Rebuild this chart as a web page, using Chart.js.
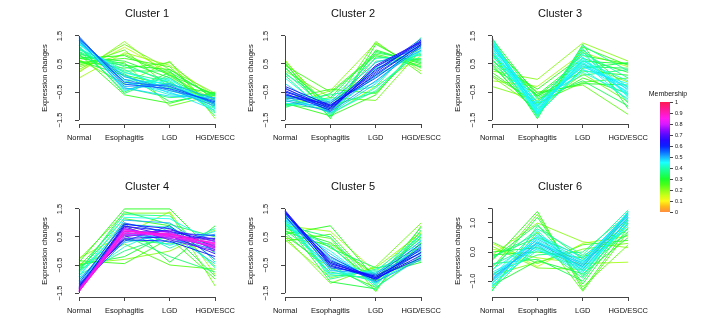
<!DOCTYPE html>
<html>
<head>
<meta charset="utf-8">
<script src="https://cdn.jsdelivr.net/npm/chart.js@4.4.1/dist/chart.umd.min.js"></script>
<style>
    html, body { margin: 0; padding: 0; background: #fff; }
    #fig { position: relative; width: 720px; height: 321px; overflow: hidden; background: #fff; }
    #fig canvas { position: absolute; }
</style>
</head>
<body>
<div id="fig"></div>
<script>
const stages = ["Normal", "Esophagitis", "LGD", "HGD/ESCC"];
const yTicks = [-1.5, -1, -0.5, 0, 0.5, 1, 1.5];
const yTickLabels = {"-1.5": "\u22121.5", "-0.5": "\u22120.5", "0.5": "0.5", "1.5": "1.5"};
const yTicks6 = [-1, -0.5, 0, 0.5, 1, 1.5];
const yTickLabels6 = {"-1": "\u22121.0", "0": "0.0", "1": "1.0"};
const membershipTicks = [0, 0.1, 0.2, 0.3, 0.4, 0.5, 0.6, 0.7, 0.8, 0.9, 1];

// profiles: [Normal, Esophagitis, LGD, HGD/ESCC]
const cluster1 = [
    [1.48, -0.22, -0.38, -0.85], [1.42, -0.15, -0.30, -0.90], [1.38, -0.05, -0.45, -0.80], [1.45, -0.30, -0.25, -0.95],
    [1.30, 0.05, -0.40, -1.00], [1.35, -0.40, -0.20, -0.75], [1.25, 0.10, -0.55, -0.85], [1.40, -0.45, -0.05, -1.05],
    [1.20, 0.20, -0.30, -1.10], [1.10, -0.10, -0.60, -0.70], [1.30, -0.25, 0.00, -1.20], [1.05, 0.30, -0.45, -0.90],
    [1.00, 0.40, -0.10, -1.25], [0.95, -0.35, -0.70, -0.60], [1.15, -0.55, 0.10, -1.00], [0.85, 0.50, -0.20, -0.75],
    [0.90, 0.25, 0.25, -1.35], [0.80, 0.15, -0.85, -0.55], [1.10, -0.50, 0.20, -0.65], [0.75, 0.60, 0.00, -0.95],
    [0.70, 0.80, 0.10, -0.60], [0.55, 0.70, 0.40, -1.10], [0.60, 0.35, 0.55, -0.85], [0.45, 1.00, -0.35, -0.70],
    [0.30, 1.20, 0.30, -0.55], [0.20, 1.30, 0.05, -0.80], [0.00, 0.90, 0.45, -0.65], [0.65, -0.20, 0.60, -1.45],
    [0.50, 0.55, -1.00, -0.60], [0.85, -0.60, -0.90, -0.50], [0.25, 1.10, 0.20, -1.20],
    [1.20, -0.05, -0.20, -0.95], [1.05, 0.05, -0.35, -0.80], [0.95, 0.20, -0.15, -1.05], [1.25, -0.15, -0.50, -1.15],
    [0.70, 0.45, 0.30, -0.75], [0.40, 0.85, 0.15, -0.95], [1.35, -0.35, -0.65, -0.70], [0.60, 0.10, -0.25, -0.55]
];
const member1 = [0.57, 0.55, 0.53, 0.52, 0.51, 0.50, 0.47, 0.45, 0.44, 0.42, 0.41, 0.40, 0.38, 0.36, 0.35, 0.34,
    0.33, 0.32, 0.31, 0.30, 0.28, 0.26, 0.25, 0.24, 0.22, 0.20, 0.18, 0.21, 0.23, 0.27, 0.16,
    0.43, 0.39, 0.37, 0.46, 0.29, 0.22, 0.48, 0.30];

const cluster2 = [
    [-0.38, -1.05, 0.45, 1.30], [-0.45, -1.10, 0.30, 1.25], [-0.30, -0.98, 0.20, 1.35], [-0.50, -1.00, 0.10, 1.20],
    [-0.55, -1.15, 0.40, 1.28], [-0.60, -0.95, 0.00, 1.15], [-0.70, -0.90, 0.25, 1.40], [-0.80, -1.20, -0.10, 1.10],
    [-0.65, -0.85, 0.55, 1.05], [-0.20, -1.25, -0.20, 1.30], [-0.90, -1.00, 0.35, 0.95], [0.00, -1.30, -0.35, 1.00],
    [-1.00, -0.75, 0.70, 0.80], [0.20, -1.20, 0.10, 0.90], [-0.85, -0.60, -0.30, 1.45], [0.10, -1.40, 0.60, 0.70],
    [-0.95, -1.10, 0.90, 0.60], [0.35, -1.00, -0.50, 1.20], [-1.05, -0.55, 0.80, 0.40], [0.40, -1.35, 1.00, 0.50],
    [0.55, -1.45, 1.20, 0.35], [-0.75, -0.40, -0.55, 1.10], [0.60, -1.10, 1.30, 0.15], [0.25, -0.70, -0.80, 1.00],
    [-1.00, -0.45, 1.25, 0.25], [0.65, -1.30, -0.30, 0.80], [0.45, -0.50, 0.85, 0.45], [-0.90, -1.35, -0.60, 1.25],
    [-0.60, -1.05, 0.15, 1.20], [-0.75, -1.10, 0.05, 1.00], [-0.35, -1.20, 0.40, 1.15], [-0.50, -0.80, -0.15, 1.35],
    [0.15, -0.90, 0.35, 0.85], [-0.95, -0.70, 0.95, 0.55], [0.50, -1.20, 0.75, 0.65], [-0.65, -1.25, -0.45, 1.00]
];
const member2 = [0.66, 0.64, 0.63, 0.62, 0.61, 0.58, 0.55, 0.52, 0.50, 0.48, 0.46, 0.43, 0.41, 0.39, 0.37, 0.36,
    0.34, 0.33, 0.32, 0.30, 0.28, 0.26, 0.24, 0.22, 0.20, 0.18, 0.25, 0.27,
    0.57, 0.49, 0.53, 0.44, 0.35, 0.31, 0.27, 0.38];

const cluster3 = [
    [1.20, -1.10, 0.50, -0.40], [1.10, -1.20, 0.65, -0.55], [1.30, -1.00, 0.40, -0.30], [1.00, -1.25, 0.75, -0.65],
    [1.35, -1.15, 0.30, -0.20], [0.90, -0.95, 0.55, -0.80], [1.25, -1.30, 0.85, -0.45], [1.15, -0.85, 0.20, -0.60],
    [0.80, -1.05, 0.60, -0.10], [1.40, -1.40, 1.05, -0.70], [1.45, -1.20, 1.15, 0.25], [0.70, -1.35, 0.95, -0.90],
    [1.05, -0.70, 0.10, 0.30], [0.55, -1.00, 1.00, -0.35], [1.30, -0.75, -0.10, -1.00], [0.45, -1.25, 0.35, 0.55],
    [0.95, -1.45, 1.20, -1.10], [0.35, -0.60, 0.70, 0.20], [1.20, -0.55, -0.20, -0.25], [0.60, -0.40, 0.80, 0.50],
    [0.10, -0.90, -0.15, 0.00], [0.25, -0.05, 1.25, 0.60], [-0.10, -0.30, 0.90, 0.40], [0.75, -0.50, -0.25, -1.30],
    [0.05, -1.10, 0.15, -0.85], [-0.30, -0.80, 0.50, -0.15], [0.50, -1.30, 1.10, 0.45], [0.85, -0.65, 0.25, 0.10],
    [1.15, -1.00, 0.45, -0.50], [1.00, -1.15, 0.55, -0.35], [1.30, -1.25, 0.70, -0.60], [0.85, -1.30, 0.30, -0.75],
    [1.25, -0.90, 0.90, 0.00], [0.65, -0.85, 0.40, 0.35], [1.40, -0.65, 0.60, 0.50], [0.20, -0.95, 0.00, -0.55]
];
const member3 = [0.47, 0.46, 0.46, 0.45, 0.45, 0.44, 0.44, 0.43, 0.42, 0.40, 0.38, 0.36, 0.35, 0.34, 0.33, 0.32,
    0.31, 0.30, 0.29, 0.27, 0.25, 0.20, 0.18, 0.23, 0.22, 0.21, 0.26, 0.28,
    0.46, 0.45, 0.44, 0.41, 0.39, 0.33, 0.30, 0.27];

const cluster4 = [
    [-1.45, 0.70, 0.60, 0.25], [-1.42, 0.65, 0.55, 0.15], [-1.40, 0.75, 0.50, 0.30], [-1.45, 0.60, 0.65, 0.10],
    [-1.38, 0.80, 0.45, 0.20], [-1.43, 0.55, 0.60, 0.35], [-1.35, 0.68, 0.70, 0.05], [-1.40, 0.85, 0.40, 0.00],
    [-1.30, 0.50, 0.75, 0.40], [-1.45, 0.90, 0.55, -0.10], [-1.25, 0.45, 0.50, 0.45], [-1.35, 0.95, 0.80, 0.15],
    [-1.20, 0.40, 0.35, -0.20], [-1.15, 1.00, 0.65, 0.55], [-1.30, 0.35, 0.90, -0.30], [-1.05, 0.80, 0.30, 0.60],
    [-1.25, 1.10, 1.00, -0.05], [-0.95, 0.30, 0.60, -0.45], [-1.10, 0.70, 0.20, 0.70], [-0.90, 1.20, 1.15, 0.30],
    [-1.00, 0.15, 0.85, -0.60], [-0.80, 0.90, 0.10, 0.80], [-0.70, 1.30, 1.25, -0.40], [-0.85, 0.00, 0.55, 0.20],
    [-0.60, 0.55, -0.20, -0.75], [-0.75, 1.40, 0.95, 0.50], [-0.50, -0.20, 0.65, -0.90], [-0.65, 1.00, -0.40, 0.90],
    [-0.40, 1.50, 1.50, -0.10], [-0.35, -0.45, 0.45, -1.00], [-0.55, 0.25, -0.50, -0.65], [-0.30, 1.35, 1.35, -1.25],
    [-0.45, -0.30, 0.00, 0.75], [-0.25, 0.60, 1.40, -0.85],
    [-1.40, 0.72, 0.58, 0.28], [-1.38, 0.62, 0.62, 0.22], [-1.33, 0.78, 0.52, 0.12], [-1.28, 0.88, 0.70, 0.35],
    [-1.18, 0.60, 0.45, 0.05], [-0.90, 0.95, 0.85, 0.10], [-0.70, 0.40, 0.25, 0.45], [-0.55, 1.15, 0.90, -0.55]
];
const member4 = [0.88, 0.85, 0.83, 0.81, 0.79, 0.77, 0.75, 0.72, 0.70, 0.67, 0.65, 0.63, 0.61, 0.57, 0.55, 0.52,
    0.50, 0.48, 0.46, 0.44, 0.42, 0.40, 0.38, 0.36, 0.35, 0.33, 0.31, 0.30, 0.28, 0.26, 0.24, 0.22, 0.20, 0.18,
    0.84, 0.80, 0.76, 0.60, 0.54, 0.41, 0.34, 0.27];

const cluster5 = [
    [1.45, -0.45, -0.95, 0.05], [1.40, -0.40, -1.00, -0.15], [1.42, -0.55, -0.90, -0.05], [1.35, -0.35, -0.95, -0.25],
    [1.30, -0.20, -1.05, 0.15], [1.25, -0.60, -0.85, 0.25], [1.20, -0.30, -1.10, -0.30], [1.38, -0.70, -0.80, 0.35],
    [1.10, -0.10, -1.15, 0.10], [1.15, -0.80, -0.75, -0.10], [0.95, 0.00, -1.20, 0.40], [1.05, -0.90, -0.70, 0.55],
    [0.85, 0.20, -1.30, -0.20], [1.30, -1.00, -0.65, 0.00], [0.90, 0.50, -1.25, 0.60], [0.75, -0.50, -1.40, 0.75],
    [1.20, 0.10, -0.60, -0.35], [0.65, -0.75, -1.05, 0.85], [1.00, -1.10, -1.35, 0.30], [0.80, 0.30, -0.85, -0.40],
    [0.60, 0.90, -1.00, 0.50], [0.35, 0.60, -1.15, 0.20], [0.50, -1.15, -0.55, 1.00], [0.70, 0.45, -1.45, 0.90],
    [0.40, -0.95, -0.60, 0.65], [0.55, -0.60, -1.30, -0.15], [0.90, 0.70, -0.75, 0.70],
    [1.35, -0.50, -1.00, -0.05], [1.25, -0.45, -0.90, 0.10], [1.15, -0.25, -1.00, 0.20], [1.05, -0.65, -1.10, -0.20],
    [0.95, -0.40, -0.80, 0.45], [0.70, 0.15, -1.10, 0.30], [1.10, -0.85, -0.95, 0.60], [0.45, 0.25, -0.90, -0.30]
];
const member5 = [0.64, 0.63, 0.62, 0.61, 0.57, 0.55, 0.52, 0.50, 0.48, 0.46, 0.44, 0.42, 0.40, 0.38, 0.36, 0.35,
    0.34, 0.32, 0.31, 0.30, 0.28, 0.25, 0.22, 0.24, 0.20, 0.26, 0.18,
    0.60, 0.54, 0.47, 0.43, 0.37, 0.29, 0.33, 0.21];

const cluster6 = [
    [-0.90, 0.30, -0.50, 1.20], [-1.00, 0.45, -0.40, 1.30], [-0.80, 0.20, -0.60, 1.10], [-1.10, 0.55, -0.30, 1.35],
    [-0.70, 0.10, -0.70, 1.00], [-0.95, 0.60, -0.20, 1.25], [-1.20, 0.35, -0.55, 0.90], [-0.60, 0.40, -0.45, 1.40],
    [-0.85, 0.75, -0.80, 1.15], [-1.05, 0.05, -0.35, 0.80], [-0.50, 0.80, -0.10, 1.45], [-1.30, 0.25, -0.90, 1.05],
    [-0.20, 0.65, -0.65, 0.70], [-0.75, -0.10, 0.00, 1.30], [-1.35, 0.90, -0.25, 0.60], [-0.40, -0.25, -1.00, 1.20],
    [-0.15, 0.50, -0.15, 0.95], [-0.65, 1.20, -1.10, 1.00], [-1.15, -0.30, -0.75, 0.50], [0.00, 0.15, -0.50, 1.35],
    [-0.30, 1.40, -1.30, 0.85], [0.35, -0.40, 0.25, 0.40], [-0.55, 1.30, -1.20, 0.25], [0.20, -0.55, -0.60, 1.10],
    [-0.10, 1.00, 0.35, 0.15], [0.10, -0.20, -0.40, -0.35], [-1.25, 0.70, -1.35, 0.70], [0.30, -0.50, 0.30, 0.55],
    [-0.95, 0.35, -0.45, 1.25], [-1.00, 0.25, -0.55, 1.10], [-0.85, 0.50, -0.35, 1.35], [-1.15, 0.15, -0.65, 1.00],
    [-0.45, 0.30, -0.30, 1.15], [-0.25, 0.95, -0.85, 1.40], [-0.10, 0.00, -0.20, 0.80], [-0.80, -0.35, 0.10, 0.30]
];
const member6 = [0.50, 0.49, 0.48, 0.47, 0.46, 0.46, 0.45, 0.44, 0.42, 0.41, 0.39, 0.37, 0.36, 0.35, 0.34, 0.33,
    0.32, 0.31, 0.30, 0.29, 0.27, 0.25, 0.23, 0.22, 0.20, 0.18, 0.24, 0.16,
    0.48, 0.46, 0.45, 0.43, 0.38, 0.33, 0.28, 0.21];

const fontFamily = "'Liberation Sans', Arial, Helvetica, sans-serif";
const axisColor = "#444";
const textColor = "#111";

// membership colour scale: orange -> yellow -> green -> cyan -> blue -> magenta -> red
const hueStops = [25, 58, 90, 125, 160, 200, 235, 258, 290, 318, 345];
let memberColor = (m, alpha)=>{
    let pos = Math.max(0, Math.min(1, m)) * 10;
    let i = Math.min(9, Math.floor(pos));
    let hue = hueStops[i] + (hueStops[i+1] - hueStops[i]) * (pos - i);
    let light = (m < 0.05) ? 62 : ((hue > 215 && hue < 275) ? 52 : 55);
    return `hsla(${hue.toFixed(1)}, 100%, ${light}%, ${alpha===undefined ? 1 : alpha})`;
};

// R style: y axis line only spans first to last tick
const rAxisLine = {
    id: "rAxisLine",
    afterDraw: (chart)=>{
        let scale = chart.scales.y;
        let ticks = scale.ticks;
        let ctx = chart.ctx;
        let x = Math.round(chart.chartArea.left) + 0.5;
        ctx.save();
        ctx.strokeStyle = axisColor;
        ctx.lineWidth = 1;
        ctx.beginPath();
        ctx.moveTo(x, scale.getPixelForValue(ticks[0].value));
        ctx.lineTo(x, scale.getPixelForValue(ticks[ticks.length-1].value));
        ctx.stroke();
        ctx.restore();
    }
};

let fig = document.getElementById("fig");

let addCanvas = (left, top, width, height)=>{
    let canvas = document.createElement("canvas");
    canvas.width = width;
    canvas.height = height;
    canvas.style.left = left + "px";
    canvas.style.top = top + "px";
    canvas.style.width = width + "px";
    canvas.style.height = height + "px";
    fig.appendChild(canvas);
    return canvas;
};

let panels = [
    {"title": "Cluster 1", "rows": cluster1, "member": member1, "left": 0,   "top": 0,   "min": -1.64, "max": 1.64, "ticks": yTicks,  "labels": yTickLabels},
    {"title": "Cluster 2", "rows": cluster2, "member": member2, "left": 206, "top": 0,   "min": -1.64, "max": 1.64, "ticks": yTicks,  "labels": yTickLabels},
    {"title": "Cluster 3", "rows": cluster3, "member": member3, "left": 413, "top": 0,   "min": -1.64, "max": 1.64, "ticks": yTicks,  "labels": yTickLabels},
    {"title": "Cluster 4", "rows": cluster4, "member": member4, "left": 0,   "top": 173, "min": -1.64, "max": 1.64, "ticks": yTicks,  "labels": yTickLabels},
    {"title": "Cluster 5", "rows": cluster5, "member": member5, "left": 206, "top": 173, "min": -1.64, "max": 1.64, "ticks": yTicks,  "labels": yTickLabels},
    {"title": "Cluster 6", "rows": cluster6, "member": member6, "left": 413, "top": 173, "min": -1.55, "max": 1.62, "ticks": yTicks6, "labels": yTickLabels6},
];

panels.forEach((p)=>{
    let canvas = addCanvas(p.left, p.top, 240, 150);
    // highest membership drawn last (on top); chart.js paints dataset 0 last
    let order = p.rows.map((r, i)=>i).sort((a, b)=>(p.member[b] - p.member[a]));
    let datasets = order.map((i)=>({
        "data": p.rows[i],
        "borderColor": memberColor(p.member[i], 0.9),
        "borderWidth": 1,
        "pointRadius": 0,
        "fill": false,
        "tension": 0,
    }));
    new Chart(canvas, {
        "type": "line",
        "data": {"labels": stages, "datasets": datasets},
        "options": {
            "responsive": false,
            "animation": false,
            "devicePixelRatio": 1,
            "layout": {"padding": {"left": 0, "right": 21, "top": 0, "bottom": 0}},
            "plugins": {
                "legend": {"display": false},
                "tooltip": {"enabled": false},
                "title": {
                    "display": true,
                    "text": p.title,
                    "fullSize": false,
                    "color": textColor,
                    "font": {"family": fontFamily, "size": 11, "weight": "normal"},
                    "padding": {"top": 7, "bottom": 11.8},
                },
            },
            "scales": {
                "x": {
                    "offset": false,
                    "grid": {"drawOnChartArea": false, "tickLength": 4, "color": axisColor},
                    "border": {"display": true, "color": axisColor},
                    "ticks": {"color": textColor, "font": {"family": fontFamily, "size": 7.5}, "padding": 5, "autoSkip": false, "maxRotation": 0},
                    "afterFit": (s)=>{ s.height = 26; },
                },
                "y": {
                    "min": p.min,
                    "max": p.max,
                    "afterBuildTicks": (s)=>{ s.ticks = p.ticks.map((v)=>({"value": v})); },
                    "grid": {"drawOnChartArea": false, "tickLength": 4, "color": axisColor},
                    "border": {"display": false},
                    "ticks": {
                        "color": textColor,
                        "font": {"family": fontFamily, "size": 7.5},
                        "minRotation": 90,
                        "maxRotation": 90,
                        "crossAlign": "center",
                        "padding": 8,
                        "callback": (v)=>(p.labels[String(v)] || ""),
                    },
                    "title": {
                        "display": true,
                        "text": "Expression changes",
                        "color": textColor,
                        "font": {"family": fontFamily, "size": 7.5},
                        "padding": {"top": 40.5, "bottom": 0},
                    },
                    "afterFit": (s)=>{ s.width = 79; },
                },
            },
        },
        "plugins": [rAxisLine],
    });
});

// membership colour bar
let barCanvas = addCanvas(628, 80, 80, 141);
new Chart(barCanvas, {
    "type": "bar",
    "data": {
        "labels": ["Membership"],
        "datasets": [{
            "data": [1],
            "barPercentage": 1,
            "categoryPercentage": 1,
            "borderWidth": 0,
            "backgroundColor": (context)=>{
                let chart = context.chart;
                let y = chart.scales.y;
                if(!chart.chartArea || !y) return memberColor(0.5);
                let y0 = y.getPixelForValue(0), y1 = y.getPixelForValue(1);
                if(!isFinite(y0) || !isFinite(y1)) return memberColor(0.5);
                let g = chart.ctx.createLinearGradient(0, y0, 0, y1);
                for(let k=0; k<=20; k++) g.addColorStop(k/20, memberColor(k/20));
                return g;
            },
        }],
    },
    "options": {
        "responsive": false,
        "animation": false,
        "devicePixelRatio": 1,
        "layout": {"padding": {"left": 0, "right": 0, "top": 0, "bottom": 9}},
        "plugins": {
            "legend": {"display": false},
            "tooltip": {"enabled": false},
            "title": {
                "display": true,
                "text": "Membership",
                "color": textColor,
                "font": {"family": fontFamily, "size": 7, "weight": "normal"},
                "padding": {"top": 9.8, "bottom": 3.8},
            },
        },
        "scales": {
            "x": {"display": false},
            "pad": {
                "type": "linear",
                "position": "left",
                "grid": {"display": false},
                "ticks": {"display": false},
                "border": {"display": false},
                "afterFit": (s)=>{ s.width = 32; },
            },
            "y": {
                "position": "right",
                "min": 0,
                "max": 1,
                "afterBuildTicks": (s)=>{ s.ticks = membershipTicks.map((v)=>({"value": v})); },
                "grid": {"drawOnChartArea": false, "tickLength": 3, "color": axisColor},
                "border": {"display": false},
                "ticks": {"color": textColor, "font": {"family": fontFamily, "size": 5.5}, "padding": 2, "callback": (v)=>String(v)},
                "afterFit": (s)=>{ s.width = 38; },
            },
        },
    },
});
</script>
</body>
</html>
